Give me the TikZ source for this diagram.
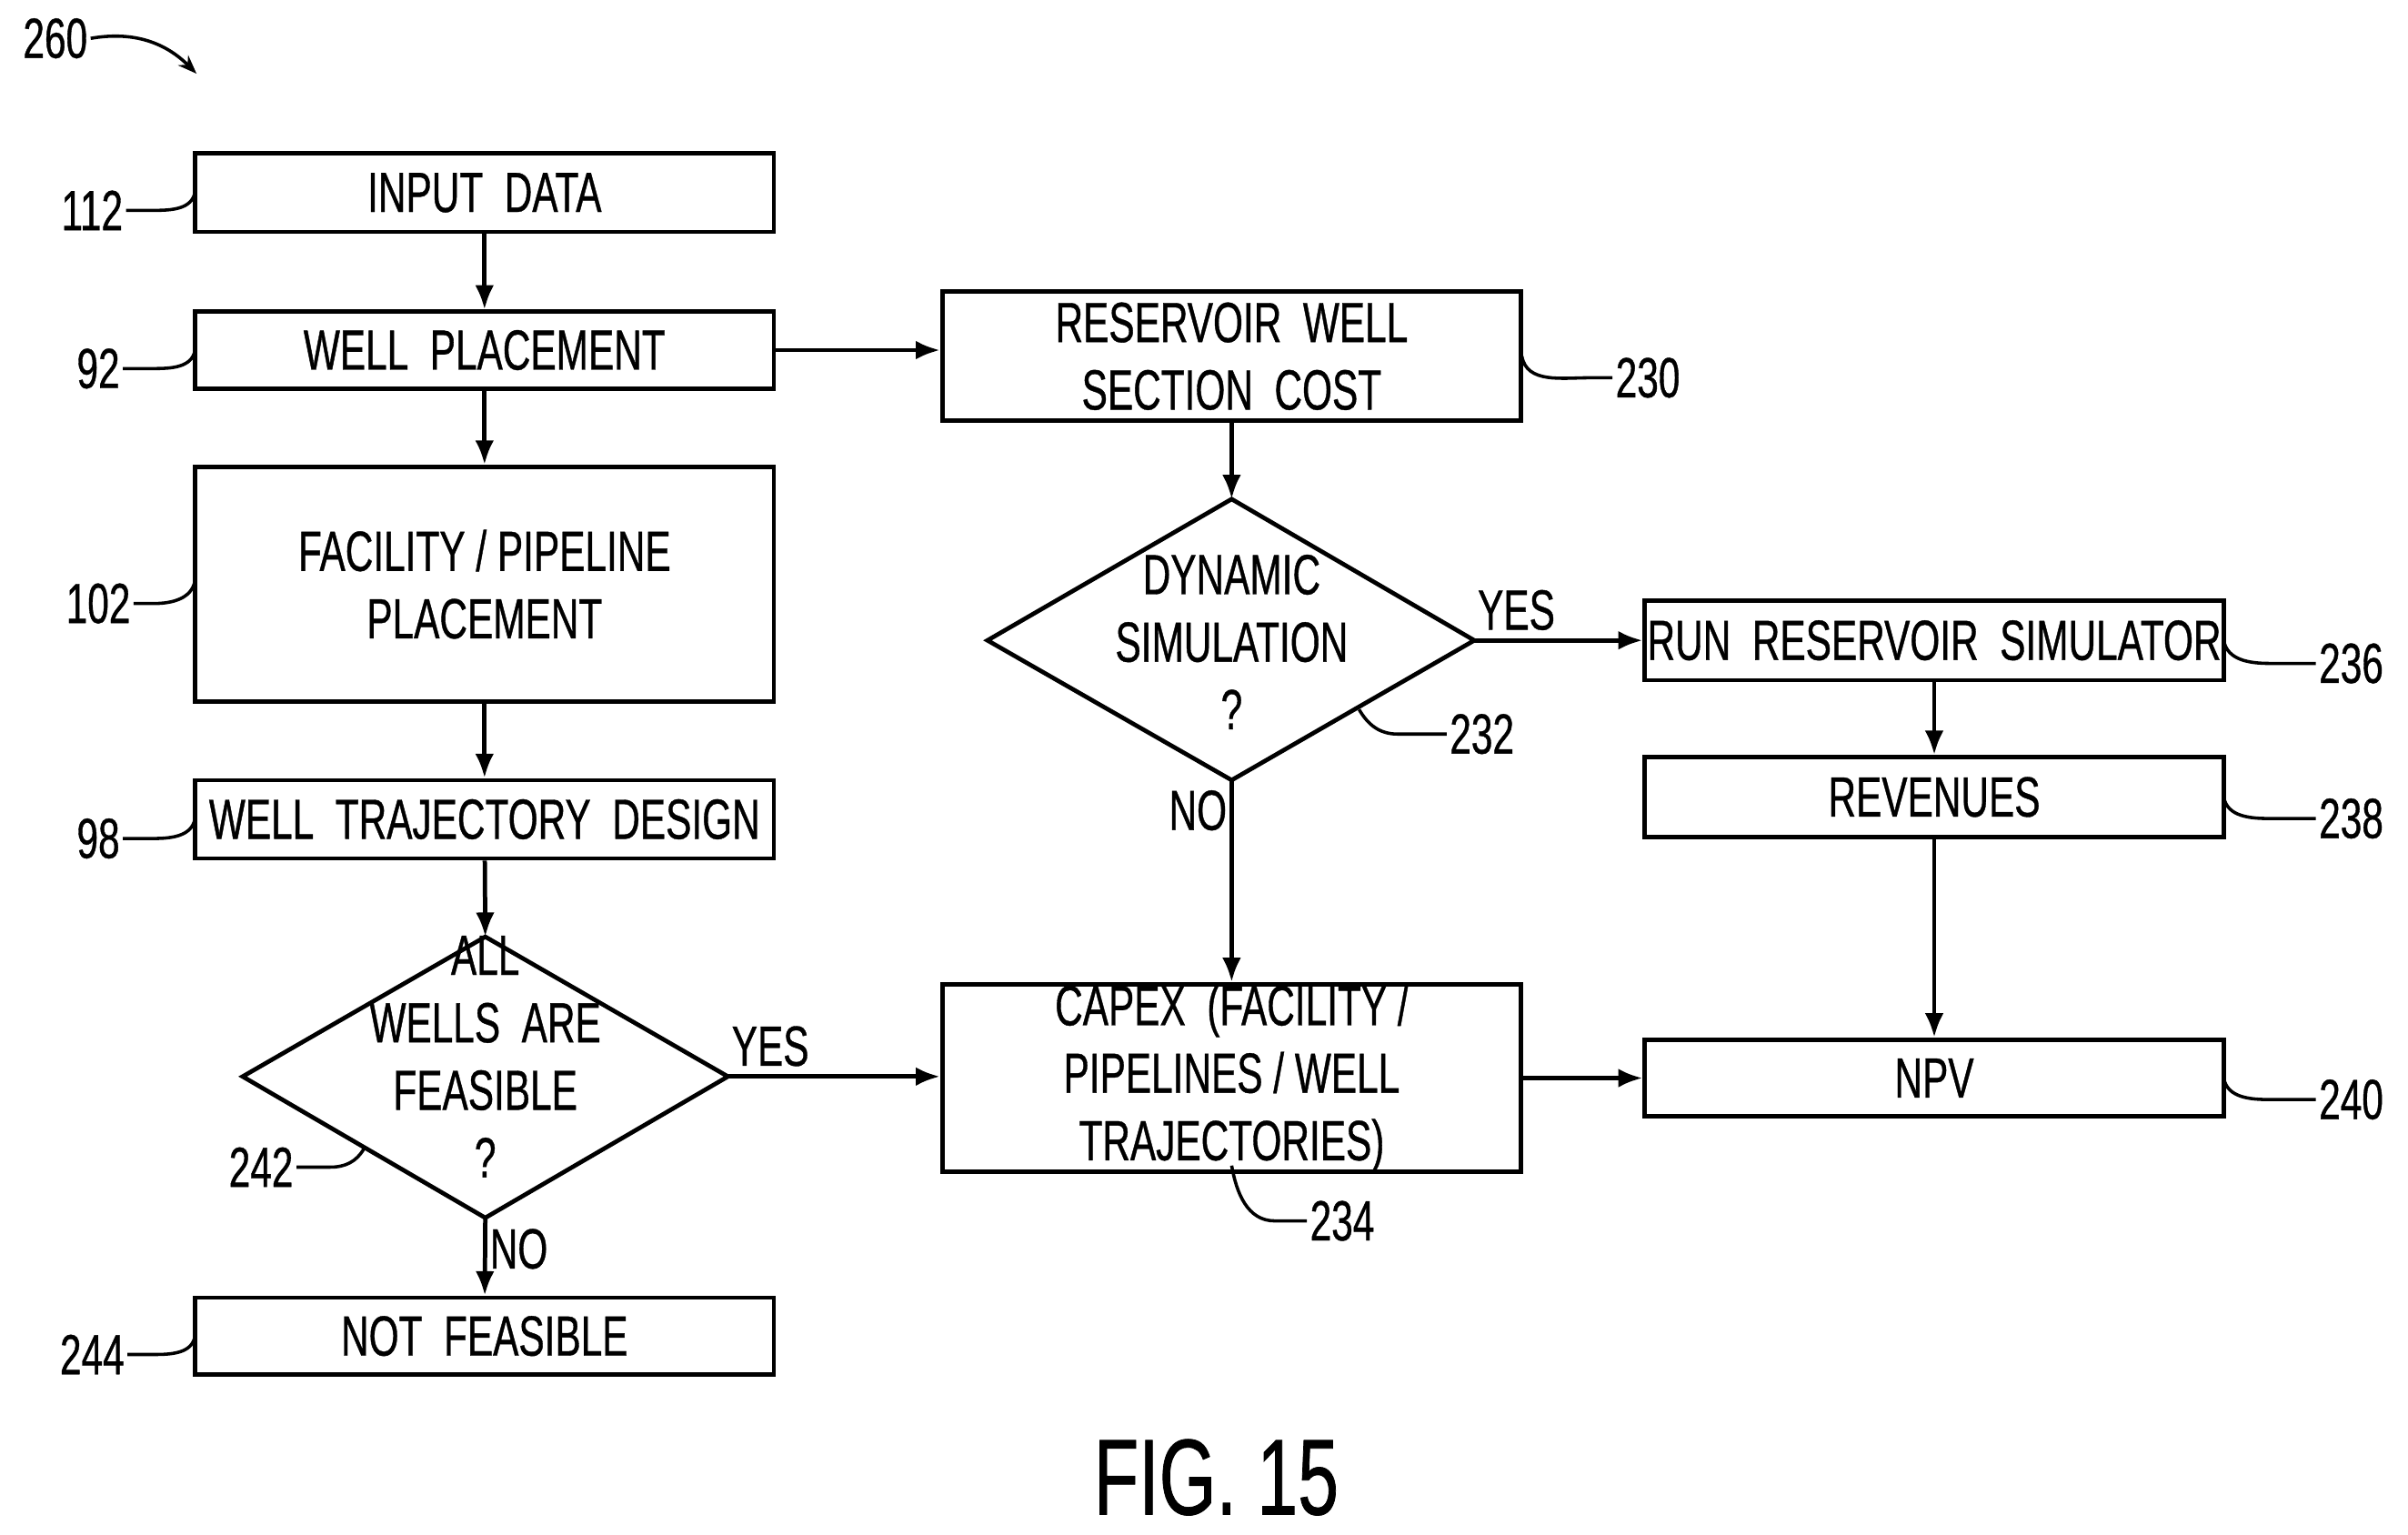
\documentclass[tikz,border=0pt]{standalone}
\usepackage{fontspec}
\setmainfont[FakeStretch=0.68,FakeBold=0.6]{Liberation Sans}
\usetikzlibrary{shapes.geometric,arrows.meta}
\begin{document}
\begin{tikzpicture}[x=0.02cm,y=-0.02cm,
  every node/.style={font=\fontsize{21}{21}\selectfont},
  box/.style={draw,line width=1.6pt,minimum width=7.54cm,align=center,inner sep=0pt},
  dtext/.style={align=center,inner sep=0pt},
  arr/.style={line width=1.6pt,-{Latex[length=9pt,width=7pt]}},
  lead/.style={line width=1.2pt},
  lbl/.style={font=\fontsize{21}{21}\selectfont,inner sep=1pt}]
\useasboundingbox (0,0) rectangle (1568,999);
\node[box,minimum height=1.02cm] (in) at (315.5,125.5) {INPUT\ \ DATA};
\node[box,minimum height=1.0cm] (wp) at (315.5,228) {WELL\ \ PLACEMENT};
\node[box,minimum height=3.06cm] (fp) at (315.5,380.5) {FACILITY / PIPELINE\\[4pt]PLACEMENT};
\node[box,minimum height=1.02cm] (wt) at (315.5,533.5) {WELL\ \ TRAJECTORY\ \ DESIGN};
\node[dtext] (aw) at (316,688) {ALL\\[4pt]WELLS\ \ ARE\\[4pt]FEASIBLE\\[4pt]?};
\coordinate (awT) at (316,610); \coordinate (awB) at (316,793);
\coordinate (awL) at (158,701); \coordinate (awR) at (474,701);
\draw[line width=1.6pt] (awT) -- (awR) -- (awB) -- (awL) -- cycle;
\node[box,minimum height=1.0cm] (nf) at (315.5,870) {NOT\ \ FEASIBLE};
\node[box,minimum height=1.68cm] (rw) at (802,232) {RESERVOIR\ \ WELL\\[4pt]SECTION\ \ COST};
\node[dtext] (ds) at (802,418) {DYNAMIC\\[4pt]SIMULATION\\[4pt]?};
\coordinate (dsT) at (802,325); \coordinate (dsB) at (802,508);
\coordinate (dsL) at (643,417); \coordinate (dsR) at (960,417);
\draw[line width=1.6pt] (dsT) -- (dsR) -- (dsB) -- (dsL) -- cycle;
\node[box,minimum height=2.28cm] (cx) at (802,702) {CAPEX\ \ (FACILITY /\\[4pt]PIPELINES / WELL\\[4pt]TRAJECTORIES)};
\node[box,minimum height=1.04cm] (rr) at (1259.5,417) {RUN\ \ RESERVOIR\ \ SIMULATOR};
\node[box,minimum height=1.04cm] (rv) at (1259.5,519) {REVENUES};
\node[box,minimum height=1.0cm] (np) at (1259.5,702) {NPV};
\node[font=\fontsize{40}{40}\selectfont,inner sep=0pt] (fig) at (792,962) {FIG. 15};

\draw[arr] (in) -- (wp);
\draw[arr] (wp) -- (fp);
\draw[arr] (fp) -- (wt);
\draw[arr] (wt) -- (awT);
\draw[arr] (awB) -- node[right,lbl,pos=0.4]{NO} (nf);
\draw[arr] (awR) -- node[above,lbl,pos=0.2,yshift=2pt]{YES} (cx.west|-awR);
\draw[arr] (wp.east) -- (rw.west|-wp.east);
\draw[arr] (rw) -- (dsT);
\draw[arr] (dsR) -- node[above,lbl,pos=0.25,yshift=2pt]{YES} (rr);
\draw[arr] (dsB) -- node[left,lbl,pos=0.15]{NO} (cx);
\draw[arr] (rr) -- (rv);
\draw[arr] (rv) -- (np);
\draw[arr] (cx) -- (np);

\node[lbl] (l260) at (36,25) {260};
\draw[lead,-{Stealth[length=7pt]}] (l260.east) to[out=10,in=135] (128,48);
\node[lbl] (l112) at (60,137) {112};
\draw[lead] (l112.east) -- (100,137) to[out=0,in=-100] (127,125);
\node[lbl] (l92) at (64,240) {92};
\draw[lead] (l92.east) -- (100,240) to[out=0,in=-100] (127,228);
\node[lbl] (l102) at (64,393) {102};
\draw[lead] (l102.east) -- (100,393) to[out=0,in=-100] (127,378);
\node[lbl] (l98) at (64,546) {98};
\draw[lead] (l98.east) -- (100,546) to[out=0,in=-100] (127,533);
\node[lbl] (l244) at (60,882) {244};
\draw[lead] (l244.east) -- (100,882) to[out=0,in=-100] (127,870);
\node[lbl] (l242) at (170,760) {242};
\draw[lead] (l242.east) -- (215,760) to[out=0,in=-120] (237,748);
\node[lbl] (l230) at (1073,246) {230};
\draw[lead] (991,232) to[out=-80,in=180] (1035,246) -- (l230.west);
\node[lbl] (l232) at (965,478) {232};
\draw[lead] (885,462) to[out=-60,in=180] (910,478) -- (l232.west);
\node[lbl] (l234) at (874,795) {234};
\draw[lead] (802,759) to[out=-80,in=180] (830,795) -- (l234.west);
\node[lbl] (l236) at (1531,432) {236};
\draw[lead] (1448,417) to[out=-80,in=180] (1478,432) -- (l236.west);
\node[lbl] (l238) at (1531,533) {238};
\draw[lead] (1448,519) to[out=-80,in=180] (1478,533) -- (l238.west);
\node[lbl] (l240) at (1531,716) {240};
\draw[lead] (1448,702) to[out=-80,in=180] (1478,716) -- (l240.west);
\end{tikzpicture}
\end{document}
